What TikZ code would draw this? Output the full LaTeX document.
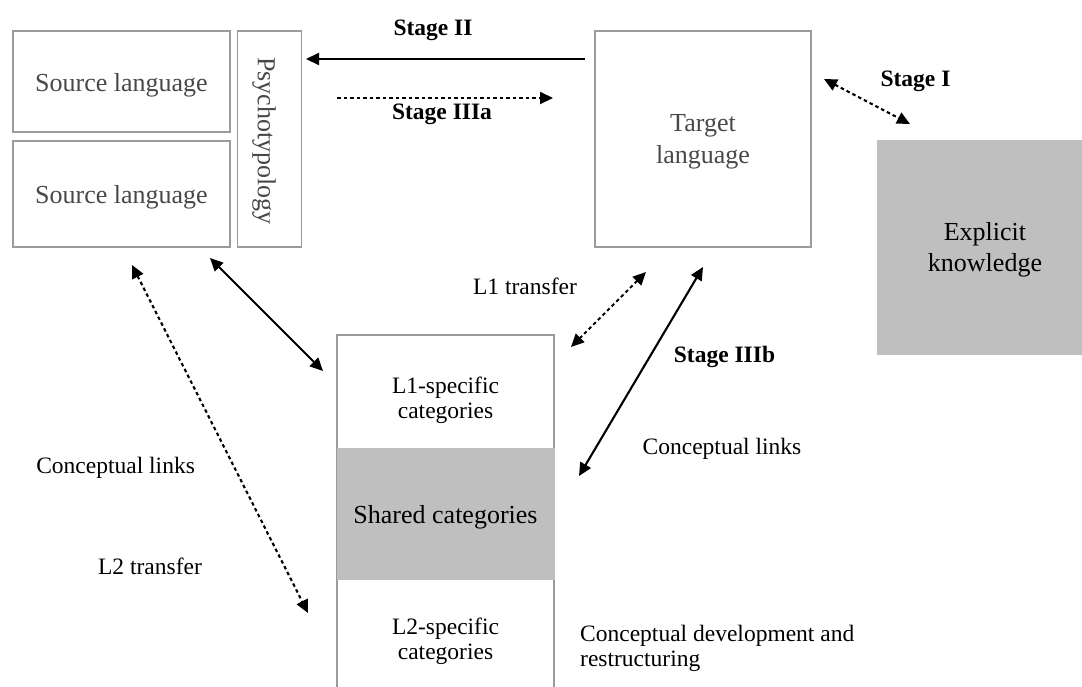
\documentclass[tikz,border=0pt]{standalone}
\usepackage{fontspec}
\setmainfont{Liberation Serif}
\usetikzlibrary{arrows.meta}
\definecolor{edgegray}{RGB}{155,155,155}
\definecolor{panelgray}{RGB}{191,191,191}
\definecolor{inkgray}{RGB}{72,72,72}
\begin{document}
\begin{tikzpicture}[x=1pt,y=-1pt,
  >={Triangle[length=13pt,width=12pt]},
  frame/.style={draw=edgegray, line width=1.6pt, inner sep=0pt},
  panel/.style={fill=panelgray, draw=none, inner sep=0pt},
  big/.style={font=\fontsize{26}{31.6}\selectfont, align=center, inner sep=0pt},
  small/.style={font=\fontsize{23.5}{25}\selectfont, align=center, inner sep=0pt},
  stage/.style={font=\fontsize{23.5}{25}\selectfont\bfseries, inner sep=0pt},
  link/.style={line width=2.1pt},
  dotlink/.style={line width=2.1pt, dash pattern=on 3.5pt off 3pt}]
\useasboundingbox (0,0) rectangle (1082,686);

% language boxes
\node[frame, minimum width=217pt, minimum height=101pt] (src1) at (121.5,81.5) {};
\node[big, text=inkgray] (src1t) at (121.5,85.6) {Source language};
\node[frame, minimum width=217pt, minimum height=106pt] (src2) at (121.5,194) {};
\node[big, text=inkgray] (src2t) at (121.5,197) {Source language};
\node[frame, minimum width=64pt, minimum height=216pt] (psy) at (269.5,139) {};
\node[big, text=inkgray, rotate=-90] (psyt) at (264,141) {Psychotypology};
\node[frame, minimum width=216pt, minimum height=216pt] (tgt) at (703,139) {};
\node[big, text=inkgray] (tgtt) at (703,142) {Target\\language};

% explicit knowledge
\node[panel, minimum width=216pt, minimum height=215pt] (expl) at (985,247.5) {};
\node[big] (explt) at (985,249.6) {Explicit\\knowledge};

% conceptual store
\node[frame, minimum width=217pt, minimum height=358pt] (store) at (445.5,514) {};
\node[panel, minimum width=218.5pt, minimum height=132pt] (shared) at (445.8,514) {};
\node[big] (sharedt) at (445.5,517.5) {Shared categories};
\node[small] (l1t) at (445.5,400) {L1-specific\\categories};
\node[small] (l2t) at (445.5,641) {L2-specific\\categories};

% labels
\node[stage] (s2) at (433,30) {Stage II};
\node[stage] (s3a) at (442,114) {Stage IIIa};
\node[stage] (s1) at (915.5,81) {Stage I};
\node[stage] (s3b) at (724.5,357) {Stage IIIb};
\node[small] (l1tr) at (525,286) {L1 transfer};
\node[small] (cl2) at (722,449) {Conceptual links};
\node[small] (cl1) at (115.6,468) {Conceptual links};
\node[small] (l2tr) at (150,566) {L2 transfer};
\node[small, align=left, anchor=west] (cdr) at (580,648.5) {Conceptual development and\\restructuring};

% connector ends
\coordinate (a2s) at (585,59);   \coordinate (a2e) at (306,59);
\coordinate (a3s) at (337,98);   \coordinate (a3e) at (553,98);
\coordinate (a1s) at (824,79);   \coordinate (a1e) at (910,124);
\coordinate (t1s) at (646,272);  \coordinate (t1e) at (571,347);
\coordinate (bs) at (703,267);   \coordinate (be) at (579,476);
\coordinate (cs) at (210,258);   \coordinate (ce) at (323,371);
\coordinate (ds) at (132,265);   \coordinate (de) at (308,613);

% connectors
\draw[link, ->] (a2s) -- (a2e);
\draw[dotlink, ->] (a3s) -- (a3e);
\draw[dotlink, <->] (a1s) -- (a1e);
\draw[dotlink, <->] (t1s) -- (t1e);
\draw[link, <->] (bs) -- (be);
\draw[link, <->] (cs) -- (ce);
\draw[dotlink, <->] (ds) -- (de);
\end{tikzpicture}
\end{document}
